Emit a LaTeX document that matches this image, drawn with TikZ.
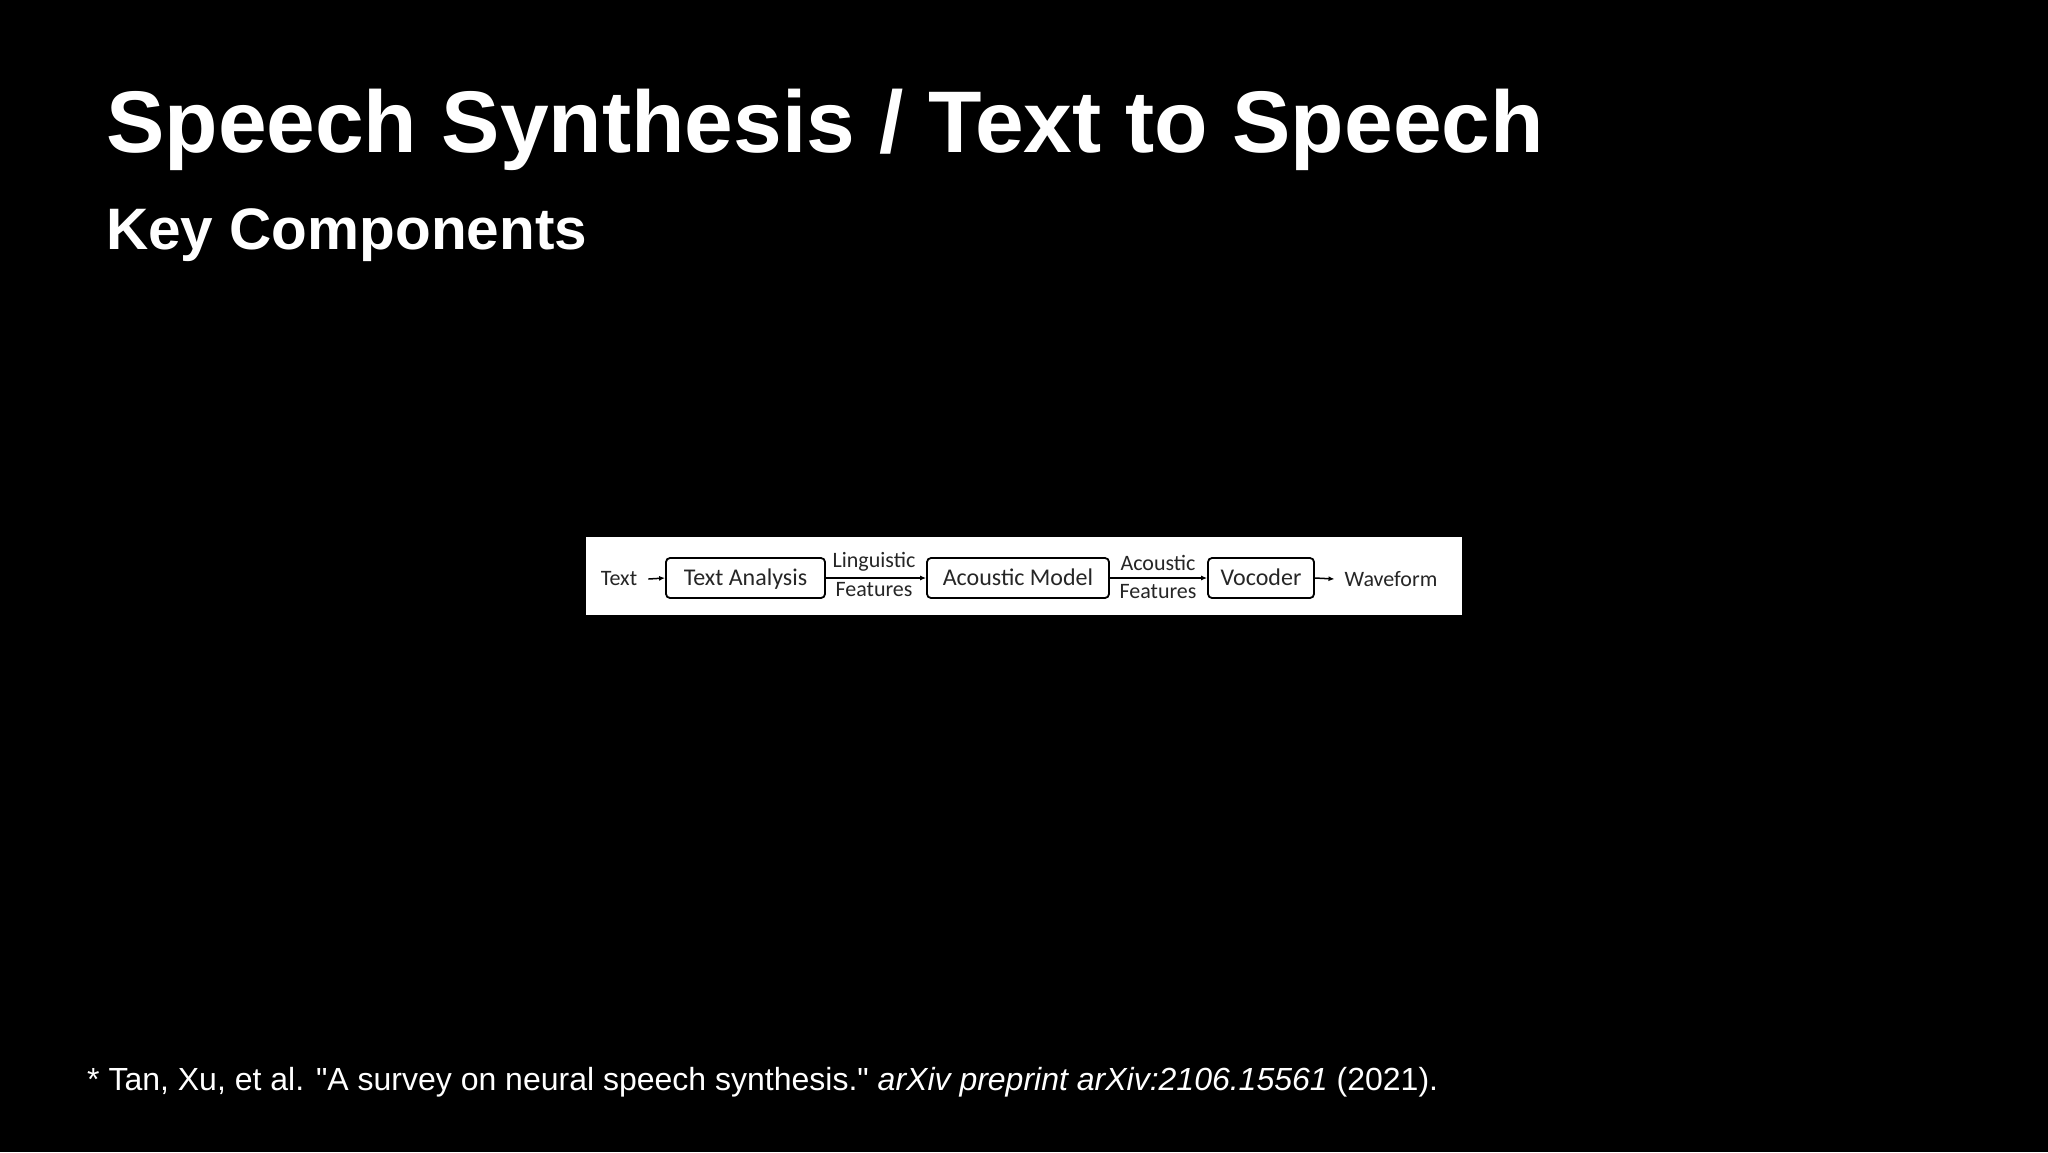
\documentclass[tikz,border=0pt]{standalone}
\usepackage{fontspec}
\setmainfont{Liberation Sans}[Ligatures=TeXOff]
\newfontfamily\diag{Carlito}
\usetikzlibrary{arrows.meta}
\begin{document}
\begin{tikzpicture}[x=1pt,y=-1pt,
  stage/.style={draw=black, line width=1.8pt, rounded corners=4pt, minimum height=40pt, inner sep=0pt, text height=15.5pt, text depth=0pt, font=\diag\fontsize{24}{28}\selectfont, text=black!85},
  lbl/.style={inner sep=0pt, font=\diag\fontsize{22}{26}\selectfont, text=black!85},
  flow/.style={line width=1.5pt, -{Latex[length=6pt,width=5pt]}},
  heading/.style={anchor=base west, inner sep=0pt, text=white}]
\fill[black] (0,0) rectangle (2048,1152);
\useasboundingbox (0,0) rectangle (2048,1152);
\node[heading, font=\bfseries\fontsize{87.5}{100}\selectfont] (title) at (106,152) {Speech Synthesis / Text to Speech};
\node[heading, font=\bfseries\fontsize{58.5}{66}\selectfont] (subtitle) at (106,249) {Key Components};
\node[heading, font=\fontsize{32}{36}\selectfont] (cite) at (87,1090) {* Tan, Xu, et al. "A survey on neural speech synthesis." \textit{arXiv preprint arXiv:2106.15561} (2021).};
\node[fill=white, minimum width=876pt, minimum height=78pt, inner sep=0pt, anchor=north west] (panel) at (586,537) {};
\node[lbl] (txt) at (619,579) {Text};
\node[stage, minimum width=159pt] (ta) at (745.5,578) {Text Analysis};
\node[stage, minimum width=182pt] (am) at (1018,578) {Acoustic Model};
\node[stage, minimum width=106pt] (voc) at (1261,578) {Vocoder};
\node[lbl] (wav) at (1391,579) {Waveform};
\node[lbl] (ling) at (874,562) {Linguistic};
\node[lbl] (lf) at (874,590) {Features};
\node[lbl] (ac) at (1158,563) {Acoustic};
\node[lbl] (af) at (1158,592) {Features};
\draw[flow] ([xshift=11pt]txt.east) -- (ta.west);
\draw[flow] (ta.east) -- (am.west);
\draw[flow] (am.east) -- (voc.west);
\draw[flow] (voc.east) -- ([xshift=-10pt]wav.west);
\end{tikzpicture}
\end{document}
